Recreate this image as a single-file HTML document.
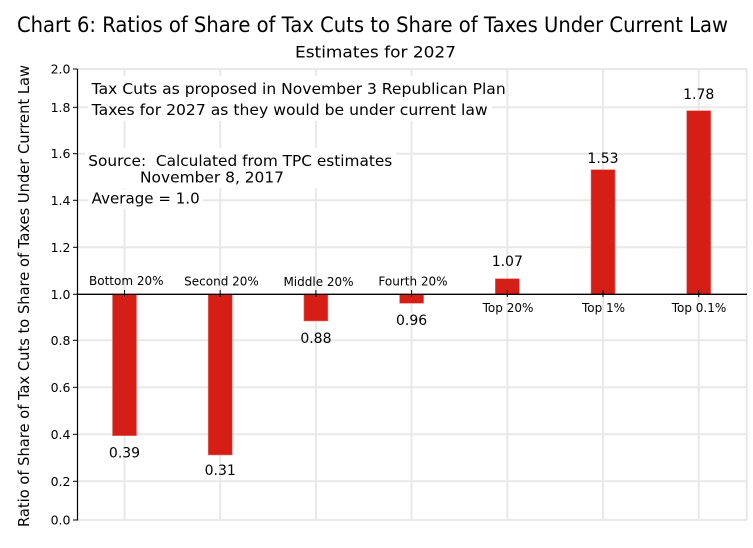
<!DOCTYPE html>
<html><head><meta charset="utf-8"><style>
html,body{margin:0;padding:0;background:#fff;}
svg{display:block;}
text{font-family:"DejaVu Sans","Liberation Sans",sans-serif;fill:#000;}
</style></head><body>
<svg width="753" height="548" viewBox="0 0 753 548" xmlns="http://www.w3.org/2000/svg">
<rect width="753" height="548" fill="#fff"/>
<!-- title -->
<text x="17" y="32" font-size="21" textLength="711" lengthAdjust="spacingAndGlyphs">Chart 6: Ratios of Share of Tax Cuts to Share of Taxes Under Current Law</text>
<text x="295" y="57.3" font-size="16" textLength="161" lengthAdjust="spacingAndGlyphs">Estimates for 2027</text>
<!-- y title -->
<text transform="translate(29,296) rotate(-90)" text-anchor="middle" font-size="15" textLength="462" lengthAdjust="spacingAndGlyphs">Ratio of Share of Tax Cuts to Share of Taxes Under Current Law</text>
<!-- gridlines -->
<g stroke="#e8e8e8" stroke-width="2" fill="none">
<line x1="78" y1="69" x2="747" y2="69"/>
<line x1="78" y1="107.3" x2="747" y2="107.3"/>
<line x1="78" y1="153.7" x2="747" y2="153.7"/>
<line x1="78" y1="200.3" x2="747" y2="200.3"/>
<line x1="78" y1="247.3" x2="747" y2="247.3"/>
<line x1="78" y1="340.3" x2="747" y2="340.3"/>
<line x1="78" y1="387.3" x2="747" y2="387.3"/>
<line x1="78" y1="434.3" x2="747" y2="434.3"/>
<line x1="78" y1="481.3" x2="747" y2="481.3"/>
<line x1="78" y1="520" x2="747" y2="520"/>
<line x1="746.7" y1="69" x2="746.7" y2="520"/>
<line x1="124.5" y1="69" x2="124.5" y2="520"/>
<line x1="220.2" y1="69" x2="220.2" y2="520"/>
<line x1="315.9" y1="69" x2="315.9" y2="520"/>
<line x1="411.6" y1="69" x2="411.6" y2="520"/>
<line x1="507.3" y1="69" x2="507.3" y2="520"/>
<line x1="603" y1="69" x2="603" y2="520"/>
<line x1="698.7" y1="69" x2="698.7" y2="520"/>
</g>
<!-- text boxes with white bg -->
<rect x="88" y="76" width="404" height="45" fill="#fff"/>
<rect x="85" y="148" width="311" height="40" fill="#fff"/>
<rect x="88" y="189" width="115" height="20" fill="#fff"/>
<text x="91.7" y="94" font-size="15" textLength="414" lengthAdjust="spacingAndGlyphs">Tax Cuts as proposed in November 3 Republican Plan</text>
<text x="91.7" y="115" font-size="15" textLength="396" lengthAdjust="spacingAndGlyphs">Taxes for 2027 as they would be under current law</text>
<text x="88.3" y="166" font-size="15" textLength="304" lengthAdjust="spacingAndGlyphs" xml:space="preserve">Source:  Calculated from TPC estimates</text>
<text x="140" y="182.7" font-size="15" textLength="144" lengthAdjust="spacingAndGlyphs">November 8, 2017</text>
<text x="91.7" y="203.3" font-size="15" textLength="108" lengthAdjust="spacingAndGlyphs">Average = 1.0</text>
<!-- bars -->
<g fill="#d51e15" stroke="#e57a74" stroke-width="0.6">
<rect x="112.5" y="294.3" width="24" height="141.4"/>
<rect x="208.2" y="294.3" width="24" height="160.7"/>
<rect x="303.9" y="294.3" width="24" height="26.7"/>
<rect x="399.6" y="294.3" width="24" height="9"/>
<rect x="495.3" y="278.7" width="24" height="15.6"/>
<rect x="591" y="169.7" width="24" height="124.6"/>
<rect x="686.7" y="110.7" width="24" height="183.6"/>
</g>
<!-- axes -->
<line x1="77.5" y1="69" x2="77.5" y2="520.5" stroke="#000" stroke-width="1.2"/>
<line x1="77" y1="294.3" x2="747" y2="294.3" stroke="#000" stroke-width="1.4"/>
<g stroke="#000" stroke-width="1">
<line x1="73" y1="69" x2="77.5" y2="69"/>
<line x1="73" y1="107.3" x2="77.5" y2="107.3"/>
<line x1="73" y1="153.7" x2="77.5" y2="153.7"/>
<line x1="73" y1="200.3" x2="77.5" y2="200.3"/>
<line x1="73" y1="247.3" x2="77.5" y2="247.3"/>
<line x1="73" y1="294.3" x2="77.5" y2="294.3"/>
<line x1="73" y1="340.3" x2="77.5" y2="340.3"/>
<line x1="73" y1="387.3" x2="77.5" y2="387.3"/>
<line x1="73" y1="434.3" x2="77.5" y2="434.3"/>
<line x1="73" y1="481.3" x2="77.5" y2="481.3"/>
<line x1="73" y1="520" x2="77.5" y2="520"/>
<line x1="124.5" y1="290" x2="124.5" y2="297"/>
<line x1="220.2" y1="290" x2="220.2" y2="297"/>
<line x1="315.9" y1="290" x2="315.9" y2="297"/>
<line x1="411.6" y1="290" x2="411.6" y2="297"/>
<line x1="507.3" y1="290" x2="507.3" y2="297"/>
<line x1="603" y1="290" x2="603" y2="297"/>
<line x1="698.7" y1="290" x2="698.7" y2="297"/>
</g>
<!-- y tick labels -->
<g font-size="12.5" text-anchor="end">
<text x="70.5" y="73.5">2.0</text>
<text x="70.5" y="111.8">1.8</text>
<text x="70.5" y="158.2">1.6</text>
<text x="70.5" y="204.8">1.4</text>
<text x="70.5" y="251.8">1.2</text>
<text x="70.5" y="298.8">1.0</text>
<text x="70.5" y="344.8">0.8</text>
<text x="70.5" y="391.8">0.6</text>
<text x="70.5" y="438.8">0.4</text>
<text x="70.5" y="485.8">0.2</text>
<text x="70.5" y="524.5">0.0</text>
</g>
<!-- category labels -->
<g font-size="12" text-anchor="middle">
<text x="126.3" y="285">Bottom 20%</text>
<text x="221.5" y="285.5">Second 20%</text>
<text x="318.5" y="286">Middle 20%</text>
<text x="413" y="285.5">Fourth 20%</text>
<text x="508" y="312">Top 20%</text>
<text x="603.5" y="312">Top 1%</text>
<text x="699" y="312">Top 0.1%</text>
</g>
<!-- value labels -->
<g font-size="14" text-anchor="middle">
<text x="124.5" y="457.5">0.39</text>
<text x="220.2" y="475">0.31</text>
<text x="315.9" y="343">0.88</text>
<text x="411.6" y="325">0.96</text>
<text x="507.3" y="266">1.07</text>
<text x="603" y="163">1.53</text>
<text x="698.7" y="99">1.78</text>
</g>
</svg>
</body></html>
